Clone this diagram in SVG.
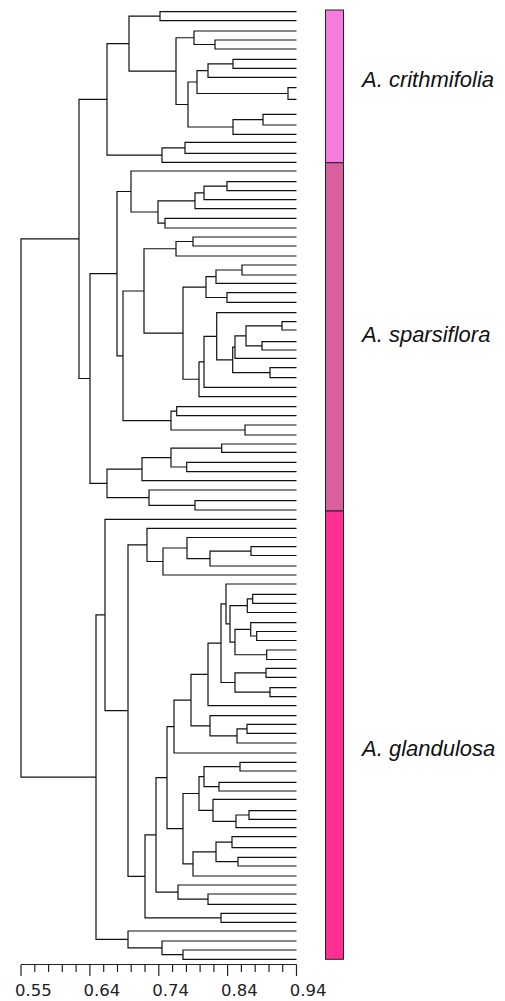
<svg xmlns="http://www.w3.org/2000/svg" width="505" height="1001" viewBox="0 0 505 1001">
<style>
.br{fill:none;stroke:#111;stroke-width:1.2}
.ax{fill:none;stroke:#222;stroke-width:1.2}
.bar{stroke:#222;stroke-width:1}
.sp{font-family:"Liberation Sans",Arial,sans-serif;font-style:italic;font-size:22px;fill:#111}
.tk{font-family:"DejaVu Sans",sans-serif;font-size:16.5px;fill:#222}
</style>
<rect width="505" height="1001" fill="#fff"/>
<g id="connectors">
<path class="br" d="M296.5 11.7H160V20.7H296.5"/>
<path class="br" d="M296.5 40H215V49H296.5"/>
<path class="br" d="M296.5 31H194V44.5H215"/>
<path class="br" d="M296.5 59.3H233V68.3H296.5"/>
<path class="br" d="M233 63.8H208V77.3H296.5"/>
<path class="br" d="M296.5 87.7H288V99.3H296.5"/>
<path class="br" d="M208 70.55H197V93.5H288"/>
<path class="br" d="M296.5 114.3H263V125H296.5"/>
<path class="br" d="M263 119.65H233V134.3H296.5"/>
<path class="br" d="M197 82H188V127H233"/>
<path class="br" d="M194 37.75H176V104.5H188"/>
<path class="br" d="M160 16.2H129V71.1H176"/>
<path class="br" d="M296.5 142.3H185V153.3H296.5"/>
<path class="br" d="M185 147.8H162V162.3H296.5"/>
<path class="br" d="M129 43.65H107V155.05H162"/>
<path class="br" d="M296.5 181.7H227V190.7H296.5"/>
<path class="br" d="M227 186.2H204V199.7H296.5"/>
<path class="br" d="M204 192.95H195V208.7H296.5"/>
<path class="br" d="M296.5 218.3H165V228H296.5"/>
<path class="br" d="M195 200.8H158V223.15H165"/>
<path class="br" d="M296.5 171H131V212H158"/>
<path class="br" d="M296.5 237H193V246H296.5"/>
<path class="br" d="M193 241.5H176V256H296.5"/>
<path class="br" d="M296.5 265H242V275H296.5"/>
<path class="br" d="M242 270H216V283.3H296.5"/>
<path class="br" d="M296.5 292.7H227V302.3H296.5"/>
<path class="br" d="M216 276.65H206V297.5H227"/>
<path class="br" d="M296.5 321.7H282V330H296.5"/>
<path class="br" d="M296.5 341.7H262V350H296.5"/>
<path class="br" d="M282 325.85H246V345.85H262"/>
<path class="br" d="M246 335.85H235V358.3H296.5"/>
<path class="br" d="M296.5 367.7H270V377.7H296.5"/>
<path class="br" d="M235 347.1H232.7V372.7H270"/>
<path class="br" d="M296.5 312.7H216.7V359.9H232.7"/>
<path class="br" d="M216.7 336.3H204V387.3H296.5"/>
<path class="br" d="M204 361.8H199V396.7H296.5"/>
<path class="br" d="M206 287.1H183V379.25H199"/>
<path class="br" d="M176 248.75H144V333.2H183"/>
<path class="br" d="M296.5 406.7H176.7V415.7H296.5"/>
<path class="br" d="M296.5 425H245V435H296.5"/>
<path class="br" d="M176.7 411.2H171V430H245"/>
<path class="br" d="M144 291H123V420.6H171"/>
<path class="br" d="M131 191.5H117V355.8H123"/>
<path class="br" d="M296.5 444H221.7V452.3H296.5"/>
<path class="br" d="M296.5 462.3H186.7V471.7H296.5"/>
<path class="br" d="M221.7 448.15H171V467H186.7"/>
<path class="br" d="M171 457.6H142V480.7H296.5"/>
<path class="br" d="M296.5 500.7H195V510H296.5"/>
<path class="br" d="M296.5 490H149V505.35H195"/>
<path class="br" d="M142 469.15H107V497.7H149"/>
<path class="br" d="M117 273.65H90V483.4H107"/>
<path class="br" d="M107 99.35H79V378.5H90"/>
<path class="br" d="M296.5 546.7H251V555.5H296.5"/>
<path class="br" d="M251 551.1H210V566H296.5"/>
<path class="br" d="M296.5 537.5H187V558.55H210"/>
<path class="br" d="M187 548H163V575H296.5"/>
<path class="br" d="M296.5 528.3H147V561.5H163"/>
<path class="br" d="M296.5 594.3H252.7V603.3H296.5"/>
<path class="br" d="M252.7 598.8H247.3V612.5H296.5"/>
<path class="br" d="M296.5 631.5H256.7V640.5H296.5"/>
<path class="br" d="M296.5 622.7H250.7V636H256.7"/>
<path class="br" d="M296.5 650H266.7V659.5H296.5"/>
<path class="br" d="M250.7 629.35H235V654.75H266.7"/>
<path class="br" d="M247.3 605.65H230V642.05H235"/>
<path class="br" d="M296.5 584H226V623.85H230"/>
<path class="br" d="M296.5 668.3H266V677.3H296.5"/>
<path class="br" d="M296.5 687.7H270V696.7H296.5"/>
<path class="br" d="M266 672.8H235V692.2H270"/>
<path class="br" d="M226 603.9H221V682.5H235"/>
<path class="br" d="M221 643.2H208V705.7H296.5"/>
<path class="br" d="M296.5 724.3H247V733.3H296.5"/>
<path class="br" d="M247 728.8H237V743H296.5"/>
<path class="br" d="M296.5 715.7H210V735.9H237"/>
<path class="br" d="M208 674.45H191V725.8H210"/>
<path class="br" d="M191 700.1H174V753H296.5"/>
<path class="br" d="M296.5 762.3H240V771H296.5"/>
<path class="br" d="M296.5 782.3H219V791H296.5"/>
<path class="br" d="M240 766.65H204V786.65H219"/>
<path class="br" d="M296.5 810.7H249V819.3H296.5"/>
<path class="br" d="M249 815H236V827.7H296.5"/>
<path class="br" d="M296.5 799.3H213V821.35H236"/>
<path class="br" d="M204 776.65H199V810.3H213"/>
<path class="br" d="M296.5 836.7H232V847.7H296.5"/>
<path class="br" d="M296.5 857.3H238V866H296.5"/>
<path class="br" d="M232 842.2H216V861.65H238"/>
<path class="br" d="M216 851.9H193V876H296.5"/>
<path class="br" d="M199 793.5H183V863.95H193"/>
<path class="br" d="M174 726.55H167V828.7H183"/>
<path class="br" d="M296.5 894H208V904.3H296.5"/>
<path class="br" d="M296.5 885H178V899.15H208"/>
<path class="br" d="M167 777.6H156V892.1H178"/>
<path class="br" d="M296.5 913.3H221V922.3H296.5"/>
<path class="br" d="M156 834.85H145V917.8H221"/>
<path class="br" d="M147 544.9H128V876.3H145"/>
<path class="br" d="M296.5 519.3H105V710.6H128"/>
<path class="br" d="M296.5 950H183V959.3H296.5"/>
<path class="br" d="M296.5 941H162V954.65H183"/>
<path class="br" d="M296.5 931H128V947.8H162"/>
<path class="br" d="M105 614.95H96V939.4H128"/>
<path class="br" d="M79 238.9H21V777.2H96"/>
</g>
<g id="axis">
<path class="ax" d="M21 964.5H296.5"/>
<path class="ax" d="M21 964.5V976M89.9 964.5V976M158.8 964.5V976M227.6 964.5V976M296.5 964.5V976"/>
<path class="ax" d="M34.8 964.5V972M48.6 964.5V972M62.3 964.5V972M76.1 964.5V972M103.7 964.5V972M117.5 964.5V972M131.2 964.5V972M145 964.5V972M172.6 964.5V972M186.4 964.5V972M200.1 964.5V972M213.9 964.5V972M241.4 964.5V972M255.2 964.5V972M269 964.5V972M282.7 964.5V972"/>
<text class="tk" x="15" y="995.5">0.55</text>
<text class="tk" x="83.5" y="995.5">0.64</text>
<text class="tk" x="152.3" y="995.5">0.74</text>
<text class="tk" x="221" y="995.5">0.84</text>
<text class="tk" x="289.8" y="995.5">0.94</text>
</g>
<g id="crithmifolia">
<rect class="bar" x="325.5" y="10" width="18" height="152.7" fill="#F57CDC"/>
<text class="sp" x="362" y="87">A. crithmifolia</text>
</g>
<g id="sparsiflora">
<rect class="bar" x="325.5" y="162.7" width="18" height="348.3" fill="#D9609F"/>
<text class="sp" x="362" y="342">A. sparsiflora</text>
</g>
<g id="glandulosa">
<rect class="bar" x="325.5" y="511" width="18" height="448.3" fill="#FF2E93"/>
<text class="sp" x="362" y="756">A. glandulosa</text>
</g>
</svg>
